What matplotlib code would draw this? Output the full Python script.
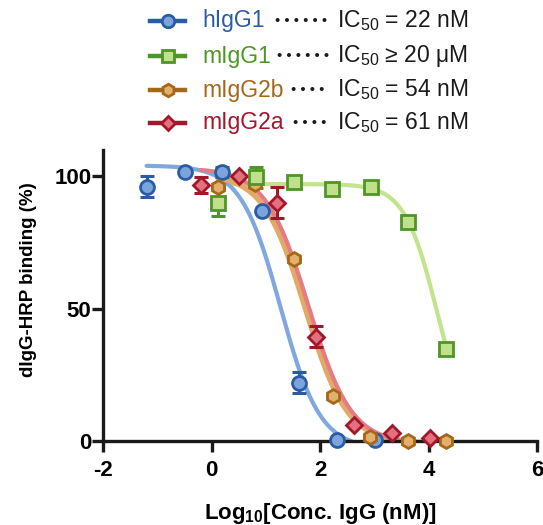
import numpy as np
import matplotlib
matplotlib.use("Agg")
import matplotlib.pyplot as plt

plt.rcParams['font.family'] = ['Liberation Sans', 'DejaVu Sans']
plt.rcParams['mathtext.fontset'] = 'custom'
plt.rcParams['mathtext.rm'] = 'Liberation Sans'
plt.rcParams['mathtext.bf'] = 'Liberation Sans:bold'
plt.rcParams['axes.unicode_minus'] = False

# data: log10 conc (nM), binding (%), error (%)
names = ['hIgG1', 'mIgG1', 'mIgG2b', 'mIgG2a']
dots = ['• • • • • •', '• • • • • •', '• • • •', '• • • •']
ic50_text = ['IC$_{50}$ = 22 nM', 'IC$_{50}$ ≥ 20 μM',
             'IC$_{50}$ = 54 nM', 'IC$_{50}$ = 61 nM']

x_h = [-1.2, -0.5, 0.2, 0.92, 1.62, 2.32, 3.02]
y_h = [96, 101.5, 101.5, 87, 22, 0.5, 0.5]
e_h = [4, 0, 2, 0, 4, 0, 0]

x_m1 = [0.11, 0.81, 1.51, 2.22, 2.93, 3.63, 4.33]
y_m1 = [90, 99.6, 97.7, 95, 96, 82.6, 34.7]
e_m1 = [5, 4, 2, 0, 0, 0, 0]

x_m2b = [0.11, 0.8, 1.51, 2.23, 2.92, 3.63, 4.33]
y_m2b = [96, 97, 68.7, 17, 1.5, 0, 0]
e_m2b = [0, 0, 0, 0, 0, 0, 0]

x_m2a = [-0.2, 0.5, 1.21, 1.92, 2.62, 3.33, 4.03]
y_m2a = [96.5, 100, 90, 39.3, 6, 3, 1]
e_m2a = [3, 0, 6, 4, 0, 0, 0]

# fitted 4PL parameters: top, bottom, logIC50, hill
fit_h = (104, -3, 1.27, 1.19)
fit_m1 = (97, 0, 4.16, 1.44)
fit_m2b = (101, -1, 1.73, 1.12)
fit_m2a = (103, -1, 1.785, 1.1)

xs = [x_h, x_m1, x_m2b, x_m2a]
ys = [y_h, y_m1, y_m2b, y_m2a]
es = [e_h, e_m1, e_m2b, e_m2a]
fits = [fit_h, fit_m1, fit_m2b, fit_m2a]

edge = ['#2a5ca3', '#4e9626', '#a5681a', '#a3172b']
face = ['#7ba4dc', '#c0e08c', '#e2b06c', '#e2707e']
curve = ['#80a8de', '#c3e48e', '#e3aa66', '#e57c84']
text_col = ['#2a5ca3', '#4e9626', '#a5681a', '#a3172b']
markers = ['o', 's', 'h', 'D']
msizes = [10, 10, 10, 8.5]


def four_pl(x, p):
    top, bottom, c, h = p
    return bottom + (top - bottom) / (1 + 10 ** (h * (x - c)))


fig = plt.figure(figsize=(5.43, 5.25), dpi=100)
ax = fig.add_axes([0.19, 0.16, 0.799, 0.555])

# curves first, red ends on top of orange
for i in [1, 0, 2, 3]:
    xx = np.linspace(min(xs[i]), max(xs[i]), 300)
    ax.plot(xx, four_pl(xx, fits[i]), color=curve[i],
            lw=4 if i == 2 else 3, zorder=2, solid_capstyle='round')

for i in [0, 2, 3, 1]:
    ax.errorbar(xs[i], ys[i], yerr=es[i], fmt='none', ecolor=edge[i],
                elinewidth=2.2, capsize=5, capthick=2.2, zorder=3, clip_on=False)
    ax.plot(xs[i], ys[i], ls='none', marker=markers[i], ms=msizes[i],
            mfc=face[i], mec=edge[i], mew=2, zorder=4, clip_on=False)

ax.set_xlim(-2, 6)
ax.set_ylim(0, 110)
ax.set_xticks([-2, 0, 2, 4, 6])
ax.set_yticks([0, 50, 100])
for s in ['top', 'right']:
    ax.spines[s].set_visible(False)
for s in ['left', 'bottom']:
    ax.spines[s].set_linewidth(2.4)
    ax.spines[s].set_color('#1a1a1a')
ax.tick_params(direction='out', length=8, width=2.4, color='#1a1a1a',
               labelsize=16)
ax.tick_params(axis='x', pad=6)
ax.tick_params(axis='y', pad=0.5)
for lab in ax.get_xticklabels() + ax.get_yticklabels():
    lab.set_fontweight('bold')

ax.set_ylabel('dIgG-HRP binding (%)', fontsize=13.5, fontweight='bold')
ax.yaxis.set_label_coords(-0.152, 0.553)
ax.set_xlabel(r'Log$_{\mathbf{10}}$[Conc. IgG (nM)]', fontsize=16,
              fontweight='bold', labelpad=14)

# legend drawn by hand
W, H = 543, 525
row_y = [21, 56, 90, 123]
dots_x = [275, 277, 291, 293]
for i in range(4):
    yf = 1 - row_y[i] / H
    fig.add_artist(plt.Line2D([150 / W, 185 / W], [yf, yf], color=edge[i],
                              lw=3.2, transform=fig.transFigure))
    fig.add_artist(plt.Line2D([167.5 / W], [yf], ls='none', marker=markers[i],
                              ms=msizes[i] - 1, mfc=face[i], mec=edge[i], mew=2,
                              transform=fig.transFigure))
    fig.text(202 / W, yf, names[i], color=text_col[i], fontsize=16.5,
             va='center', ha='left')
    fig.text(dots_x[i] / W, yf, dots[i], color='#1a1a1a', fontsize=10.5,
             va='center', ha='left')
    fig.text(468 / W, yf, ic50_text[i], color='#1a1a1a', fontsize=16.5,
             va='center', ha='right')

fig.savefig('out.png', dpi=100)
